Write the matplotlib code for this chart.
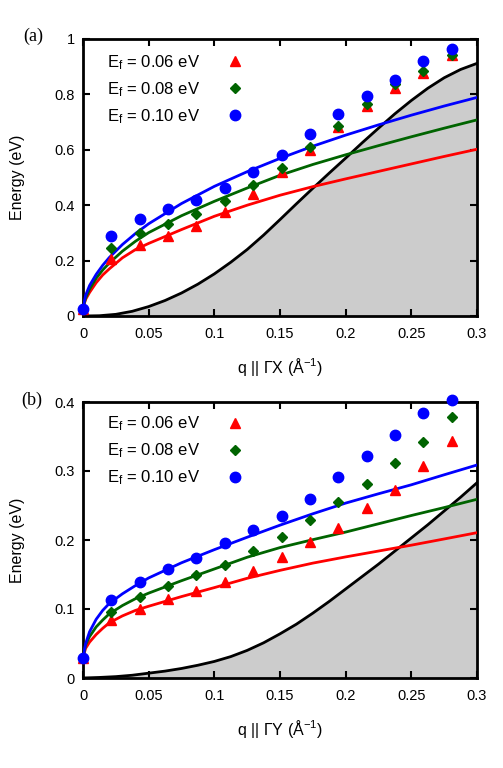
import numpy as np
import matplotlib
matplotlib.use("Agg")
import matplotlib.pyplot as plt

plt.rcParams["font.family"] = ["Liberation Sans", "DejaVu Sans"]
plt.rcParams["mathtext.default"] = "regular"

# measured points (q along the cut, energies in eV)
q_pts = [0.0, 0.0216, 0.0432, 0.0648, 0.0864, 0.108, 0.1296, 0.1512,
         0.1728, 0.1944, 0.216, 0.2376, 0.2592, 0.2808]

gx_red   = [0.025, 0.206, 0.256, 0.290, 0.325, 0.377, 0.440, 0.521, 0.599, 0.681, 0.758, 0.822, 0.878, 0.942]
gx_green = [0.025, 0.245, 0.298, 0.331, 0.367, 0.415, 0.473, 0.535, 0.609, 0.686, 0.764, 0.839, 0.884, 0.943]
gx_blue  = [0.025, 0.290, 0.351, 0.387, 0.419, 0.461, 0.519, 0.582, 0.656, 0.730, 0.795, 0.853, 0.919, 0.964]

gy_red   = [0.0285, 0.0845, 0.1005, 0.1145, 0.1256, 0.1396, 0.1546, 0.175, 0.1966, 0.217, 0.2464, 0.272, 0.307, 0.3435]
gy_green = [0.0285, 0.0957, 0.118, 0.134, 0.149, 0.164, 0.1845, 0.205, 0.229, 0.255, 0.281, 0.311, 0.3425, 0.378]
gy_blue  = [0.0285, 0.1135, 0.139, 0.158, 0.174, 0.195, 0.2145, 0.235, 0.260, 0.291, 0.322, 0.352, 0.3836, 0.403]

# model curves
q_fit = [0.0, 0.002, 0.005, 0.01, 0.015, 0.02, 0.03, 0.04, 0.05, 0.075,
         0.1, 0.125, 0.15, 0.175, 0.2, 0.225, 0.25, 0.275, 0.3]

gx_fit_red   = [0.03, 0.06, 0.085, 0.12, 0.148, 0.17, 0.21, 0.24, 0.262, 0.312,
                0.360, 0.400, 0.436, 0.467, 0.495, 0.522, 0.549, 0.576, 0.602]
gx_fit_green = [0.03, 0.065, 0.097, 0.136, 0.166, 0.191, 0.234, 0.270, 0.301, 0.362,
                0.414, 0.462, 0.508, 0.547, 0.582, 0.615, 0.647, 0.678, 0.708]
gx_fit_blue  = [0.03, 0.075, 0.11, 0.15, 0.183, 0.211, 0.258, 0.298, 0.333, 0.406,
                0.468, 0.521, 0.569, 0.613, 0.653, 0.690, 0.725, 0.758, 0.789]

gy_fit_red   = [0.03, 0.043, 0.052, 0.063, 0.072, 0.08, 0.09, 0.098, 0.104, 0.118,
                0.131, 0.1445, 0.156, 0.1665, 0.1755, 0.184, 0.1925, 0.2015, 0.2106]
gy_fit_green = [0.03, 0.048, 0.06, 0.074, 0.084, 0.093, 0.105, 0.115, 0.123, 0.141,
                0.158, 0.175, 0.189, 0.2005, 0.2115, 0.2235, 0.2355, 0.247, 0.259]
gy_fit_blue  = [0.03, 0.05, 0.067, 0.085, 0.098, 0.108, 0.122, 0.134, 0.145, 0.167,
                0.186, 0.204, 0.2215, 0.238, 0.2535, 0.267, 0.280, 0.2945, 0.3087]

# continuum edge (shaded below)
q_edge = [0.0, 0.0125, 0.025, 0.0375, 0.05, 0.0625, 0.075, 0.0875, 0.1, 0.1125,
          0.125, 0.1375, 0.15, 0.1625, 0.175, 0.1875, 0.2, 0.2125, 0.225, 0.2375,
          0.25, 0.2625, 0.275, 0.2875, 0.3]
gx_edge = [0.0, 0.001, 0.006, 0.017, 0.034, 0.056, 0.083, 0.115, 0.152, 0.194,
           0.240, 0.292, 0.348, 0.405, 0.461, 0.516, 0.570, 0.625, 0.678, 0.730,
           0.778, 0.822, 0.860, 0.890, 0.912]
gy_edge = [0.0, 0.0008, 0.002, 0.004, 0.007, 0.010, 0.0138, 0.0185, 0.024, 0.031,
           0.040, 0.051, 0.064, 0.078, 0.094, 0.111, 0.129, 0.147, 0.165, 0.184,
           0.203, 0.222, 0.242, 0.262, 0.283]

labels = ["E$_f$ = 0.06 eV", "E$_f$ = 0.08 eV", "E$_f$ = 0.10 eV"]
colors = ["#ff0000", "#006400", "#0000ff"]
markers = ["^", "D", "o"]
msizes = [7, 5.2, 7.5]

xticks = [0, 0.05, 0.1, 0.15, 0.2, 0.25, 0.3]
xtick_labels = ["0", "0.05", "0.1", "0.15", "0.2", "0.25", "0.3"]
top_yticks = [0, 0.2, 0.4, 0.6, 0.8, 1.0]
top_ytick_labels = ["0", "0.2", "0.4", "0.6", "0.8", "1"]
bot_yticks = [0, 0.1, 0.2, 0.3, 0.4]
bot_ytick_labels = ["0", "0.1", "0.2", "0.3", "0.4"]

W, H = 503, 768
fig = plt.figure(figsize=(W / 100, H / 100), dpi=100)
ax1 = fig.add_axes([83 / W, 1 - 316 / H, 394 / W, 277 / H])
ax2 = fig.add_axes([83 / W, 1 - 678 / H, 394 / W, 276 / H])

panels = [
    (ax1, gx_edge, [gx_fit_red, gx_fit_green, gx_fit_blue], [gx_red, gx_green, gx_blue],
     1.0, top_yticks, top_ytick_labels, "q || \u0393X (\u00c5$^{-1}$)", 0.95),
    (ax2, gy_edge, [gy_fit_red, gy_fit_green, gy_fit_blue], [gy_red, gy_green, gy_blue],
     0.4, bot_yticks, bot_ytick_labels, "q || \u0393Y (\u00c5$^{-1}$)", 0.955),
]

for ax, edge, fits, pts, ymax, yt, ytl, xlab, leg_y in panels:
    ax.fill_between(q_edge, 0, edge, color="#cccccc", lw=0, zorder=1)
    ax.plot(q_edge, edge, color="black", lw=2, zorder=2)
    for f, c in zip(fits, colors):
        ax.plot(q_fit, f, color=c, lw=2, zorder=3)
    handles = []
    for p, c, m, ms, lab in zip(pts, colors, markers, msizes, labels):
        h, = ax.plot(q_pts, p, ls="none", marker=m, ms=ms, color=c,
                     clip_on=False, zorder=4, label=lab)
        handles.append(h)
    ax.set_xlim(0, 0.3)
    ax.set_ylim(0, ymax)
    ax.set_xticks(xticks)
    ax.set_xticklabels(xtick_labels)
    ax.set_yticks(yt)
    ax.set_yticklabels(ytl)
    ax.tick_params(direction="in", top=True, right=True, length=5, width=1.5,
                   labelsize=10.5)
    ax.tick_params(axis="x", pad=8)
    ax.tick_params(axis="y", pad=6)
    for s in ax.spines.values():
        s.set_linewidth(2)
    ax.set_xlabel(xlab, fontsize=11.5, labelpad=11)
    ax.legend(handles=handles, loc="upper left", bbox_to_anchor=(0.06, leg_y),
              frameon=False, markerfirst=False, fontsize=12, handlelength=1,
              handletextpad=1.6, labelspacing=0.5, borderpad=0, borderaxespad=0)

fig.text(18 / W, 1 - 177.5 / H, "Energy (eV)", rotation=90, ha="center", va="center", fontsize=11.5)
fig.text(18 / W, 1 - 540 / H, "Energy (eV)", rotation=90, ha="center", va="center", fontsize=11.5)
fig.text(33 / W, 1 - 36 / H, "(a)", ha="center", va="center", fontsize=13,
         family=["Liberation Serif", "DejaVu Serif"])
fig.text(32 / W, 1 - 400 / H, "(b)", ha="center", va="center", fontsize=13,
         family=["Liberation Serif", "DejaVu Serif"])

fig.savefig("out.png", dpi=100)
